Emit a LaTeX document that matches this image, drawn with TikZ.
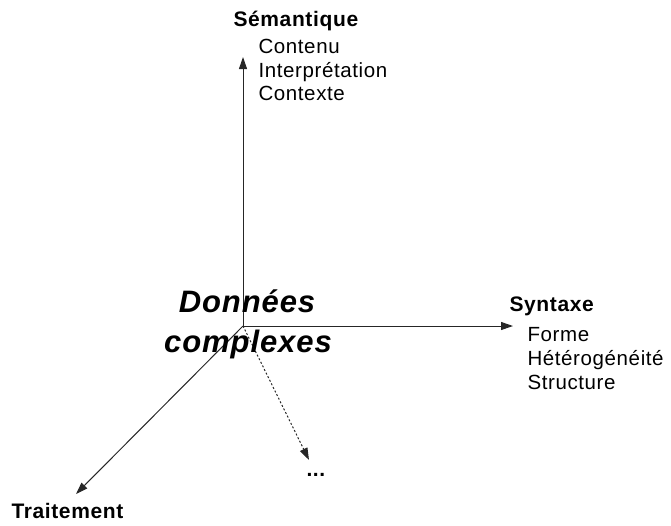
\documentclass[tikz,border=0pt]{standalone}
\usepackage{fontspec}
\setmainfont{Liberation Sans}
\newfontfamily\lblfont[LetterSpace=3]{Liberation Sans}
\newfontfamily\axefont[LetterSpace=3]{Liberation Sans}
\newfontfamily\bigfont[LetterSpace=3]{Liberation Sans}
\usetikzlibrary{arrows.meta}

\begin{document}
\begin{tikzpicture}[x=1pt,y=-1pt,line width=1pt,
  axe/.style={draw=black!85,-{Triangle[length=12pt,width=8pt]}},
  axedots/.style={axe,dash pattern=on 2pt off 2pt},
  titre/.style={anchor=base west,inner sep=0pt,font=\axefont\bfseries\fontsize{21}{25}\selectfont},
  item/.style={anchor=base west,inner sep=0pt,font=\lblfont\fontsize{20.5}{25}\selectfont},
  centre/.style={anchor=base,inner sep=0pt,font=\bigfont\bfseries\itshape\fontsize{31}{36}\selectfont}]
\useasboundingbox (0,0) rectangle (671,525);

% origine et bouts des axes
\coordinate (o) at (243,326);
\coordinate (semtip) at (243,57);
\coordinate (syntip) at (513,326);
\coordinate (tratip) at (76,494);
\coordinate (dottip) at (309,460);

\draw[axe] (o) -- (semtip);
\draw[axe] (o) -- (syntip);
\draw[axe] (o) -- (tratip);
\draw[axedots] (o) -- (dottip);

% Semantique
\node[titre] (sem) at (233,26) {Sémantique};
\node[item] (sem1) at (258,53) {Contenu};
\node[item] (sem2) at (258,77) {Interprétation};
\node[item] (sem3) at (258,100) {Contexte};

% Syntaxe
\node[titre] (syn) at (509,311) {Syntaxe};
\node[item] (syn1) at (527,341) {Forme};
\node[item] (syn2) at (527,365) {Hétérogénéité};
\node[item] (syn3) at (527,389) {Structure};

% Traitement et le reste
\node[titre] (tra) at (11,518) {Traitement};
\node[titre] (etc) at (306,476) {...};

\node[centre] (don) at (247,312) {Données};
\node[centre] (cpx) at (248,352) {complexes};
\end{tikzpicture}
\end{document}
